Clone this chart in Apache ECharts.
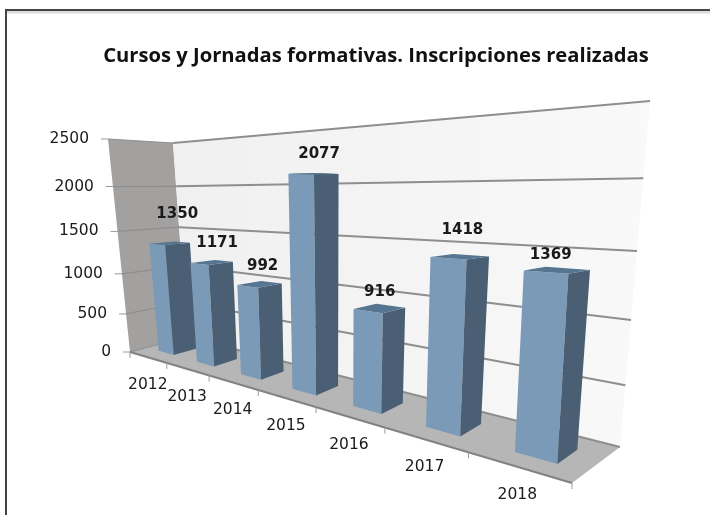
<!DOCTYPE html>
<html>
<head>
<meta charset="utf-8">
<title>Cursos y Jornadas formativas</title>
<style>
  html, body { margin: 0; padding: 0; background: #fff; }
  #chart { width: 710px; height: 515px; }
</style>
<script src="https://cdn.jsdelivr.net/npm/echarts@6/dist/echarts.min.js"></script>
</head>
<body>
<div id="chart"></div>
<script>
// datos
const years = ['2012', '2013', '2014', '2015', '2016', '2017', '2018'];
const inscripciones = [1350, 1171, 992, 2077, 916, 1418, 1369];
const valueTicks = [0, 500, 1000, 1500, 2000, 2500];
const titleText = 'Cursos y Jornadas formativas. Inscripciones realizadas';

// caja 3D en pantalla: esquinas de suelo y techo (frontal izq, frontal der, fondo der, fondo izq)
const floorQuad = [[130, 352], [572, 483], [620, 447], [187, 337]];
const roofQuad = [[108, 139], [594, 85], [650, 101], [173, 143]];
const widthPersp = 0.545;
const heightPersp = 0.87;
const barFrac = [0.33, 0.74];   // ancho de la barra dentro de su categoria
const barDepth = [0.30, 0.71];  // profundidad de la barra
// ajuste fino de las etiquetas de valor
const labelShift = [[9, -29], [7, -19], [5, -18], [8, -20], [3, -16], [6, -26], [-2, -15]];

const lerp = (a, b, t) => [a[0] + (b[0] - a[0]) * t, a[1] + (b[1] - a[1]) * t];
const quadPoint = (q, s, d) => lerp(lerp(q[0], q[1], s), lerp(q[3], q[2], s), d);

// u: a lo largo de categorias, d: profundidad, v: altura (0..1)
const project = (u, d, v) => {
    const s = u * widthPersp / (u * widthPersp + (1 - u));
    const t = v * heightPersp / (v * heightPersp + (1 - v));
    return lerp(quadPoint(floorQuad, s, d), quadPoint(roofQuad, s, d), t);
};

const quad = (pts, fill, z2) => ({
    type: 'polygon',
    shape: { points: pts },
    style: { fill: fill },
    z2: z2 || 0
});
const line3d = (a, b, stroke, w, z2) => ({
    type: 'line',
    shape: { x1: a[0], y1: a[1], x2: b[0], y2: b[1] },
    style: { stroke: stroke, lineWidth: w },
    z2: z2 || 0
});
const text = (x, y, str, weight, size, align, z2) => ({
    type: 'text',
    x: x,
    y: y,
    style: {
        text: str,
        fontFamily: 'DejaVu Sans',
        fontSize: size,
        fontWeight: weight,
        fill: '#1a1a1a',
        align: align,
        verticalAlign: 'middle'
    },
    z2: z2 || 0
});

const chart = echarts.init(document.getElementById('chart'));

// la rejilla es un cuadrado unidad que la proyeccion lleva al espacio 3D
const gridBox = { left: 0, top: 0, width: 700, height: 500 };
const toUnit = (api, cat, val) => {
    const p = api.coord([cat, val]);
    return [(p[0] - gridBox.left) / gridBox.width, 1 - (p[1] - gridBox.top) / gridBox.height];
};

const renderWalls = (params, api) => {
    const children = [];
    // pared lateral, suelo, fondo
    children.push(quad([project(0, 0, 0), project(0, 0, 1), project(0, 1, 1), project(0, 1, 0)], '#a3a1a0'));
    children.push(quad([project(0, 0, 0), project(1, 0, 0), project(1, 1, 0), project(0, 1, 0)], '#b6b6b6'));
    children.push({
        type: 'polygon',
        shape: { points: [project(0, 1, 0), project(0, 1, 1), project(1, 1, 1), project(1, 1, 0)] },
        style: {
            fill: new echarts.graphic.LinearGradient(0, 0, 1, 0, [
                { offset: 0, color: '#f0f0f0' },
                { offset: 1, color: '#f9f9f9' }
            ])
        }
    });
    // lineas de valor
    valueTicks.forEach((tick) => {
        const v = toUnit(api, 0, tick)[1];
        children.push(line3d(project(0, 0, v), project(0, 1, v), '#8e8e8e', 1.2, 1));
        children.push(line3d(project(0, 1, v), project(1, 1, v), '#8e8e8e', 2, 1));
        const tickEnd = project(0, 0, v);
        children.push(line3d([tickEnd[0] - 7, tickEnd[1]], tickEnd, '#9a9a9a', 1, 1));
        children.push(text(tickEnd[0] - 19, tickEnd[1], String(tick), 'normal', 15.5, 'right', 2));
    });
    // borde delantero del suelo y marcas de categoria
    const band = api.size([1, 0])[0] / gridBox.width;
    children.push(line3d(project(0, 0, 0), project(1, 0, 0), '#828282', 2, 1));
    for (let i = 0; i <= years.length; i++) {
        const p = project(i * band, 0, 0);
        children.push(line3d(p, [p[0], p[1] + 6], '#9a9a9a', 1, 1));
    }
    years.forEach((y, i) => {
        const p = project((i + 0.5) * band, 0, 0);
        children.push(text(p[0], p[1] + 28, y, 'normal', 15.5, 'center', 2));
    });
    return { type: 'group', children: children };
};

const renderBar = (params, api) => {
    const i = api.value(0);
    const val = api.value(1);
    const band = api.size([1, 0])[0] / gridBox.width;
    const u0 = (i + barFrac[0]) * band;
    const u1 = (i + barFrac[1]) * band;
    const v = toUnit(api, i, val)[1];
    const d0 = barDepth[0], d1 = barDepth[1];
    const lf = project(u0, d0, 0), rf = project(u1, d0, 0), rb = project(u1, d1, 0);
    const ltf = project(u0, d0, v), rtf = project(u1, d0, v), rtb = project(u1, d1, v), ltb = project(u0, d1, v);
    const center = project((i + 0.5) * band, (d0 + d1) / 2, v);
    const shift = labelShift[i];
    return {
        type: 'group',
        children: [
            quad([lf, rf, rtf, ltf], '#7a9ab8', 3),
            quad([rf, rb, rtb, rtf], '#4a5f73', 3),
            quad([ltf, rtf, rtb, ltb], '#567590', 3),
            text(center[0] + shift[0], center[1] + shift[1], String(val), 'bold', 15, 'center', 4)
        ]
    };
};

chart.setOption({
    animation: false,
    backgroundColor: '#fff',
    title: {
        text: titleText,
        left: 371,
        top: 51,
        textAlign: 'center',
        textVerticalAlign: 'middle',
        textStyle: { fontFamily: 'Open Sans', fontWeight: 'bold', fontSize: 20.2, color: '#111' }
    },
    grid: gridBox,
    xAxis: { type: 'category', data: years, show: false },
    yAxis: { type: 'value', min: 0, max: 2500, interval: 500, show: false },
    graphic: [
        {
            type: 'line',
            shape: { x1: 6, y1: 12, x2: 710, y2: 12 },
            style: { stroke: '#dcdcdc', lineWidth: 3 }
        },
        {
            type: 'polyline',
            shape: { points: [[6, 515], [6, 10], [710, 10]] },
            style: { stroke: '#444', fill: null, lineWidth: 2 }
        }
    ],
    series: [
        { type: 'custom', renderItem: renderWalls, data: [[0, 0]], silent: true, z: 1 },
        {
            type: 'custom',
            renderItem: renderBar,
            encode: { x: 0, y: 1 },
            data: inscripciones.map((val, i) => [i, val]),
            z: 2
        }
    ]
});
window.addEventListener('resize', () => chart.resize());
</script>
</body>
</html>
